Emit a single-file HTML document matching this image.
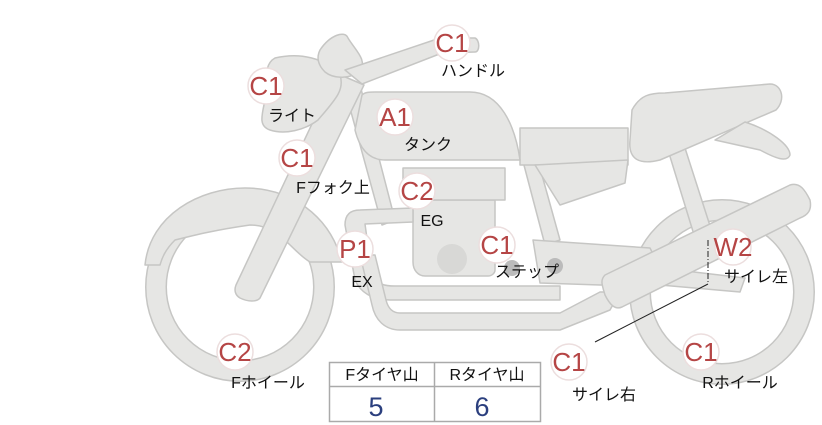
<!DOCTYPE html>
<html><head><meta charset="utf-8"><style>
html,body{margin:0;padding:0;background:#fff;width:822px;height:425px;overflow:hidden}
svg{display:block}
.s{fill:#e6e6e4;stroke:#c6c6c4;stroke-width:1.5;stroke-linejoin:round}
.b circle{fill:#fff;stroke:#ecdede;stroke-width:1.5}
.b text{fill:#b54545;font-family:"Liberation Sans",sans-serif;font-size:26px;text-anchor:middle}
.l{font-family:"Liberation Sans","Noto Sans CJK JP",sans-serif;font-size:16px;fill:#111;text-anchor:middle}
</style></head><body>
<svg width="822" height="425" viewBox="0 0 822 425" xmlns="http://www.w3.org/2000/svg">
<circle cx="722" cy="292" r="82" fill="none" stroke="#c6c6c4" stroke-width="22"/>
<circle cx="722" cy="292" r="82" fill="none" stroke="#e6e6e4" stroke-width="19"/>
<circle cx="240" cy="287" r="84" fill="none" stroke="#c6c6c4" stroke-width="22"/>
<circle cx="240" cy="287" r="84" fill="none" stroke="#e6e6e4" stroke-width="19"/>
<path class="s" d="M145,265 C150,215 200,188 245,188 C290,188 330,215 342,262 L310,262 C290,250 280,225 250,225 C215,230 195,235 175,240 C165,250 162,258 160,265 Z"/>
<path class="s" d="M345,90 L360,85 L395,220 L382,225 Z"/>
<path class="s" d="M520,150 L535,150 L560,240 L545,245 Z"/>
<path class="s" d="M668,150 L685,148 L712,232 L695,238 Z"/>
<path class="s" d="M520,128 L628,128 L628,165 L520,165 Z"/>
<path class="s" d="M535,165 L628,160 L625,183 L560,205 Z"/>
<path class="s" d="M632,110 C640,95 650,93 665,93 L770,84 C782,84 786,100 776,110 L660,160 C640,165 628,160 630,140 Z"/>
<path class="s" d="M745,122 C770,130 790,145 790,155 C787,163 775,158 760,150 L715,140 Z"/>
<path class="s" d="M533,240 L650,248 L660,268 L745,278 L740,292 L660,285 L600,285 L540,283 Z"/>
<path class="s" d="M413,200 L495,200 L495,270 C495,273 492,276 488,276 L425,276 C418,276 413,270 413,262 Z"/>
<path class="s" d="M403,168 L505,168 L505,200 L403,200 Z"/>
<circle cx="452" cy="259" r="15" fill="#d8d8d6"/>
<circle cx="512" cy="268" r="8" fill="#bbb"/><circle cx="555" cy="266" r="8" fill="#bbb"/>
<path class="s" d="M345,225 C345,215 350,210 360,210 L413,208 L413,222 L365,224 L372,275 C378,285 385,286 395,286 L560,286 L560,300 L390,300 C372,300 360,292 355,280 Z"/>
<path class="s" d="M360,255 L372,305 C375,320 385,330 400,330 L560,330 L610,310 L620,292 L600,292 L560,313 L400,313 C392,313 388,308 386,300 L375,255 Z"/>
<path class="s" d="M605,275 L790,185 C800,182 805,190 810,200 C812,210 808,215 800,218 L622,307 C615,310 610,305 605,295 C602,285 600,280 605,275 Z"/>
<path class="s" d="M336,73 L364,85 L260,298 C257,302 248,302 240,298 C235,295 234,290 236,285 Z"/>
<path class="s" d="M275,58 C300,52 325,58 340,75 C345,90 335,100 318,120 C305,130 285,135 270,130 C258,126 262,115 265,100 C268,85 262,65 275,58 Z"/>
<path class="s" d="M320,50 C330,35 345,30 348,38 C355,50 368,60 360,72 C350,78 335,80 325,72 C318,65 316,58 320,50 Z"/>
<path class="s" d="M345,70 L440,38 L475,38 C480,40 480,52 475,52 L442,53 L362,84 Z"/>
<path class="s" d="M362,95 C365,92 370,92 375,92 L470,92 C500,92 515,125 520,160 L385,160 C370,160 360,150 355,130 Z"/>
<line x1="708" y1="240" x2="708" y2="284" stroke="#222" stroke-width="1" stroke-dasharray="6,2,1,2"/>
<line x1="708" y1="284" x2="595" y2="342" stroke="#222" stroke-width="1"/>
<rect x="329.5" y="362.5" width="211" height="59" fill="#fff" stroke="#aaa" stroke-width="1.5"/>
<line x1="329" y1="386.5" x2="541" y2="386.5" stroke="#aaa" stroke-width="1.5"/>
<line x1="434.5" y1="362" x2="434.5" y2="422" stroke="#aaa" stroke-width="1.5"/>
<text class="l" x="382" y="380">Fタイヤ山</text>
<text class="l" x="487" y="380">Rタイヤ山</text>
<text x="376" y="416" font-family="Liberation Sans,sans-serif" font-size="27" fill="#2b3f7e" text-anchor="middle">5</text>
<text x="482" y="416" font-family="Liberation Sans,sans-serif" font-size="27" fill="#2b3f7e" text-anchor="middle">6</text>
<g class="b">
<circle cx="452" cy="43" r="18"/><text x="452" y="52">C1</text>
<circle cx="266" cy="86" r="18"/><text x="266" y="95">C1</text>
<circle cx="395" cy="117" r="18"/><text x="395" y="126">A1</text>
<circle cx="297" cy="158" r="18"/><text x="297" y="167">C1</text>
<circle cx="417" cy="191" r="18"/><text x="417" y="200">C2</text>
<circle cx="355" cy="249" r="18"/><text x="355" y="258">P1</text>
<circle cx="497" cy="245" r="18"/><text x="497" y="254">C1</text>
<circle cx="733" cy="247" r="18"/><text x="733" y="256">W2</text>
<circle cx="569" cy="362" r="18"/><text x="569" y="371">C1</text>
<circle cx="701" cy="352" r="18"/><text x="701" y="361">C1</text>
<circle cx="235" cy="352" r="18"/><text x="235" y="361">C2</text>
</g>
<text class="l" x="473" y="76">ハンドル</text>
<text class="l" x="292" y="121">ライト</text>
<text class="l" x="428" y="150">タンク</text>
<text class="l" x="333" y="193">Fフォク上</text>
<text class="l" x="432" y="226">EG</text>
<text class="l" x="362" y="287">EX</text>
<text class="l" x="527" y="277">ステップ</text>
<text class="l" x="756" y="282">サイレ左</text>
<text class="l" x="604" y="400">サイレ右</text>
<text class="l" x="740" y="388">Rホイール</text>
<text class="l" x="268" y="388">Fホイール</text>
</svg>
</body></html>
